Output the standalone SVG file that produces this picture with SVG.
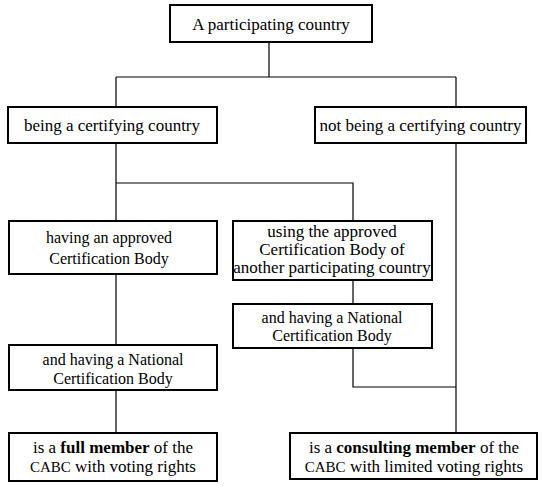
<svg xmlns="http://www.w3.org/2000/svg" width="550" height="487" viewBox="0 0 550 487" font-family="'Liberation Serif', 'DejaVu Serif', serif">
<style>
.box{fill:#fff;stroke:#000;stroke-width:2}
.ln{fill:none;stroke:#000;stroke-width:1.2}
.tx{font-family:'Liberation Serif','DejaVu Serif',serif;fill:#000;text-anchor:middle}
.t17{font-size:17px}
.t16{font-size:16px}
.b{font-weight:bold}
.cabc{font-size:15px}
</style>
<rect width="550" height="487" fill="#fff"/>
<g id="connectors">
<path class="ln" d="M269,42 V77 M116,77 H456 M116,77 V107 M456,77 V107"/>
<path class="ln" d="M116,143 V221 M116,183 H353 V221"/>
<path class="ln" d="M456,143 V433"/>
<path class="ln" d="M353,280 V304 M353,348 V387 H456"/>
<path class="ln" d="M116,274 V345 M116,390 V433"/>
</g>
<g id="participating">
<rect class="box" x="170" y="5" width="202" height="37"/>
<text class="tx t17" x="271" y="30">A participating country</text>
</g>
<g id="certifying">
<rect class="box" x="8" y="107" width="209" height="36"/>
<text class="tx t17" x="112" y="131">being a certifying country</text>
</g>
<g id="notcertifying">
<rect class="box" x="315" y="107" width="211" height="36"/>
<text class="tx t17" x="420.5" y="131">not being a certifying country</text>
</g>
<g id="approved">
<rect class="box" x="9" y="221" width="208" height="53"/>
<text class="tx t16" x="109" y="243">having an approved</text>
<text class="tx t16" x="109" y="264">Certification Body</text>
</g>
<g id="using">
<rect class="box" x="233" y="221" width="199" height="59"/>
<text class="tx t17" x="332" y="237">using the approved</text>
<text class="tx t17" x="332" y="255">Certification Body of</text>
<text class="tx t17" x="332" y="273">another participating country</text>
</g>
<g id="national2">
<rect class="box" x="233" y="304" width="199" height="44"/>
<text class="tx t16" x="332" y="323">and having a National</text>
<text class="tx t16" x="332" y="341">Certification Body</text>
</g>
<g id="national1">
<rect class="box" x="9" y="345" width="208" height="45"/>
<text class="tx t16" x="113" y="365">and having a National</text>
<text class="tx t16" x="113" y="384">Certification Body</text>
</g>
<g id="full">
<rect class="box" x="9" y="433" width="208" height="48"/>
<text class="tx t17" x="113" y="453">is a <tspan class="b">full member</tspan> of the</text>
<text class="tx t17" x="113" y="472"><tspan class="cabc">CABC</tspan> with voting rights</text>
</g>
<g id="consulting">
<rect class="box" x="290" y="433" width="247" height="46"/>
<text class="tx t17" x="414" y="453">is a <tspan class="b">consulting member</tspan> of the</text>
<text class="tx t17" x="414" y="472"><tspan class="cabc">CABC</tspan> with limited voting rights</text>
</g>
</svg>
